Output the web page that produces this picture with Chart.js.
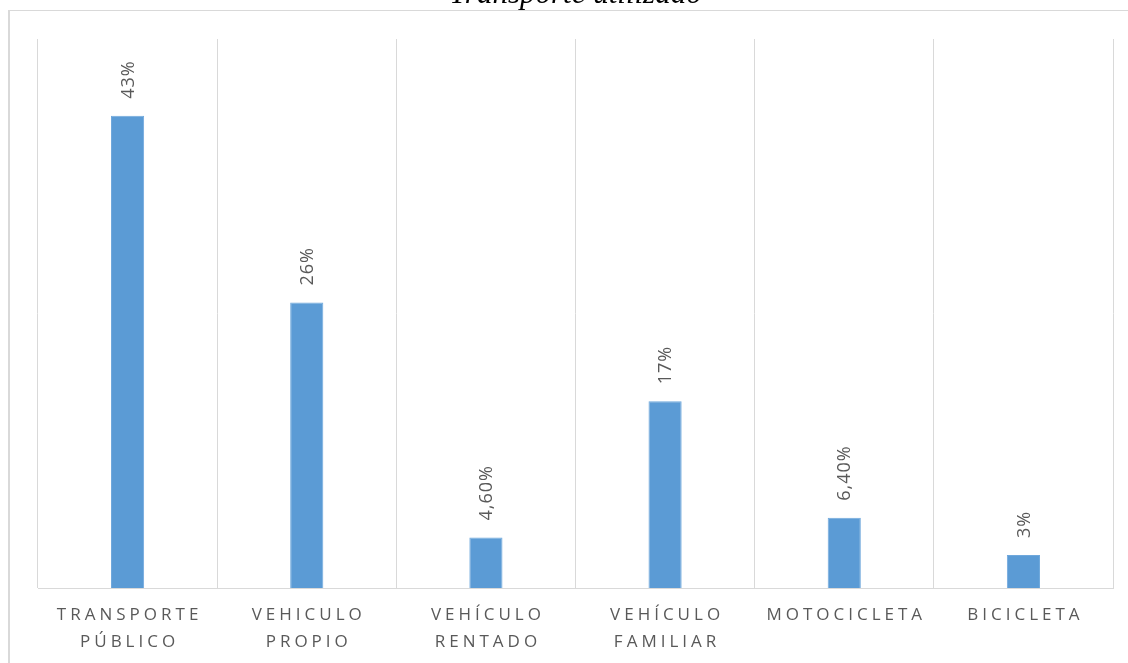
<!DOCTYPE html>
<html>
<head>
<meta charset="utf-8">
<script src="https://cdn.jsdelivr.net/npm/chart.js@4"></script>
<style>
  html, body { margin: 0; padding: 0; background: #fff; }
  #wrap { width: 1128px; height: 663px; position: relative; }
</style>
</head>
<body>
<div id="wrap"><canvas id="chart1"></canvas></div>
<script>
/*** Transporte utilizado ***/
var titulo = 'Transporte utilizado';
var categorias = [
    ['TRANSPORTE', 'PÚBLICO'],
    ['VEHICULO', 'PROPIO'],
    ['VEHÍCULO', 'RENTADO'],
    ['VEHÍCULO', 'FAMILIAR'],
    ['MOTOCICLETA'],
    ['BICICLETA']
];
var porcentajes = [43, 26, 4.6, 17, 6.4, 3];
var etiquetas = ['43%', '26%', '4,60%', '17%', '6,40%', '3%'];

var gris = '#595959';
var lineas = '#d9d9d9';

/* marco, titulo, etiquetas */
var extras = {
    id: 'extras',
    beforeDraw: function (chart) {
        var ctx = chart.ctx;
        ctx.save();
        ctx.strokeStyle = lineas;
        ctx.lineWidth = 1;
        ctx.beginPath();
        ctx.moveTo(8, 10.5);
        ctx.lineTo(1128, 10.5);
        ctx.stroke();
        ctx.lineWidth = 2;
        ctx.beginPath();
        ctx.moveTo(9, 10);
        ctx.lineTo(9, 663);
        ctx.stroke();
        ctx.restore();
    },
    afterDraw: function (chart) {
        var ctx = chart.ctx;
        var area = chart.chartArea;
        var xs = chart.scales.x;

        // titulo (cortado arriba)
        ctx.save();
        ctx.fillStyle = '#000';
        ctx.font = 'italic 31px "Liberation Serif", "DejaVu Serif", serif';
        ctx.textAlign = 'center';
        ctx.textBaseline = 'alphabetic';
        ctx.fillText(titulo, (area.left + area.right) / 2, 3);
        ctx.restore();

        // categorias
        ctx.save();
        ctx.fillStyle = gris;
        ctx.font = '17px "Open Sans", sans-serif';
        ctx.letterSpacing = '4px';
        ctx.textAlign = 'center';
        ctx.textBaseline = 'middle';
        categorias.forEach(function (lineasTxt, i) {
            var x = xs.getPixelForValue(i) + 2;
            lineasTxt.forEach(function (t, j) {
                ctx.fillText(t, x, area.bottom + 27 + j * 27);
            });
        });
        ctx.restore();

        // etiquetas de datos
        var meta = chart.getDatasetMeta(0);
        ctx.save();
        ctx.fillStyle = gris;
        ctx.font = '18px "Open Sans", sans-serif';
        ctx.letterSpacing = '1px';
        ctx.textAlign = 'left';
        ctx.textBaseline = 'middle';
        meta.data.forEach(function (bar, i) {
            ctx.save();
            ctx.translate(bar.x + 1, bar.y - 17);
            ctx.rotate(-Math.PI / 2);
            ctx.fillText(etiquetas[i], 0, 0);
            ctx.restore();
        });
        ctx.restore();
    }
};

var ctx1 = document.getElementById('chart1').getContext('2d');
var myChart = new Chart(ctx1, {
    type: 'bar',
    data: {
        labels: categorias,
        datasets: [{
            label: 'Transporte utilizado',
            data: porcentajes,
            backgroundColor: '#5b9bd5',
            borderColor: '#6fa8dc',
            borderWidth: 1,
            categoryPercentage: 1,
            barPercentage: 0.185
        }]
    },
    options: {
        responsive: true,
        maintainAspectRatio: false,
        animation: false,
        layout: { padding: { left: 38, right: 15, top: 39, bottom: 75 } },
        plugins: {
            legend: { display: false },
            title: { display: false },
            tooltip: { enabled: false }
        },
        scales: {
            x: {
                grid: { display: true, color: lineas, lineWidth: 1, drawTicks: false, offset: true },
                border: { display: true, color: lineas, width: 1 },
                ticks: { display: false }
            },
            y: {
                display: false,
                min: 0,
                max: 50
            }
        }
    },
    plugins: [extras]
});
</script>
</body>
</html>
